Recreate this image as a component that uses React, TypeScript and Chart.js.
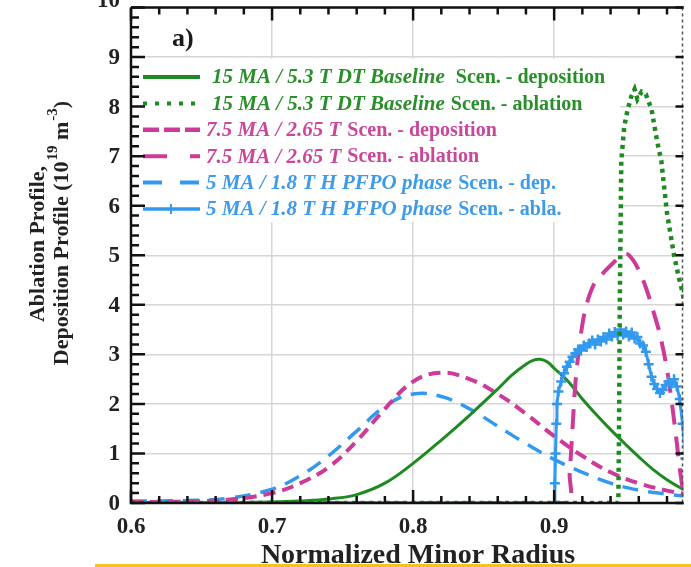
import React, { useEffect, useRef } from "react";
import { Chart, registerables } from "chart.js";

Chart.register(...registerables);

const FONT = '"Liberation Serif", "Times New Roman", serif';

// ---------- Data ----------
// 15 MA / 5.3 T DT Baseline - deposition
const xGreenDep = [0.6, 0.65, 0.7, 0.72, 0.74, 0.76, 0.78, 0.8, 0.82, 0.84, 0.86, 0.87, 0.88, 0.885, 0.89, 0.895, 0.9, 0.91, 0.92, 0.93, 0.94, 0.95, 0.96, 0.97, 0.98, 0.99, 1.0];
const yGreenDep = [0, 0.005, 0.02, 0.04, 0.08, 0.17, 0.4, 0.8, 1.27, 1.77, 2.3, 2.58, 2.8, 2.88, 2.9, 2.85, 2.72, 2.45, 2.1, 1.78, 1.48, 1.2, 0.93, 0.68, 0.47, 0.3, 0.18];

// 15 MA / 5.3 T DT Baseline - ablation
const xGreenAbl = [0.6, 0.9455, 0.946, 0.9465, 0.9476, 0.9497, 0.9518, 0.9546, 0.957, 0.959, 0.962, 0.965, 0.967, 0.969, 0.973, 0.976, 0.98, 0.985, 0.988, 0.991, 0.995, 1.0];
const yGreenAbl = [0, 0, 1.5, 4.0, 6.9, 7.6, 7.9, 8.2, 8.35, 8.15, 8.3, 8.25, 8.1, 7.95, 7.3, 6.9, 5.85, 5.0, 4.6, 4.25, 3.6, 2.8];

// 7.5 MA / 2.65 T - deposition
const xMagDep = [0.6, 0.64, 0.67, 0.7, 0.72, 0.74, 0.76, 0.78, 0.8, 0.82, 0.84, 0.86, 0.88, 0.9, 0.92, 0.94, 0.96, 0.98, 1.0];
const yMagDep = [0.02, 0.03, 0.07, 0.2, 0.4, 0.72, 1.25, 1.9, 2.45, 2.63, 2.5, 2.2, 1.8, 1.35, 0.95, 0.62, 0.4, 0.25, 0.15];

// 7.5 MA / 2.65 T - ablation
const xMagAbl = [0.6, 0.909, 0.911, 0.913, 0.915, 0.918, 0.922, 0.928, 0.935, 0.942, 0.948, 0.952, 0.956, 0.96, 0.965, 0.97, 0.975, 0.98, 0.984, 0.987, 0.99, 0.993, 1.0];
const yMagAbl = [0, 0, 0.6, 1.5, 2.4, 3.2, 3.9, 4.4, 4.65, 4.85, 5.0, 5.02, 4.9, 4.7, 4.35, 3.9, 3.4, 2.7, 1.9, 1.2, 0.5, 0.1, 0];

// 5 MA / 1.8 T H PFPO phase - deposition
const xBlueDep = [0.6, 0.64, 0.67, 0.7, 0.72, 0.74, 0.76, 0.78, 0.8, 0.82, 0.84, 0.86, 0.88, 0.9, 0.92, 0.94, 0.96, 0.98, 1.0];
const yBlueDep = [0.04, 0.05, 0.1, 0.28, 0.55, 0.95, 1.45, 1.95, 2.2, 2.15, 1.9, 1.55, 1.2, 0.88, 0.62, 0.4, 0.26, 0.18, 0.12];

// 5 MA / 1.8 T H PFPO phase - ablation
const xBlueAbl = [0.6, 0.9, 0.9005, 0.901, 0.9015, 0.902, 0.903, 0.905, 0.907, 0.909, 0.911, 0.913, 0.915, 0.917, 0.919, 0.921, 0.923, 0.925, 0.927, 0.929, 0.931, 0.933, 0.935, 0.937, 0.939, 0.941, 0.943, 0.945, 0.947, 0.949, 0.951, 0.953, 0.955, 0.957, 0.959, 0.961, 0.963, 0.965, 0.967, 0.969, 0.971, 0.973, 0.975, 0.977, 0.979, 0.981, 0.983, 0.985, 0.987, 0.989, 0.991, 0.993, 0.996, 1.0];
const yBlueAbl = [0, 0, 0.4, 1.0, 1.6, 2.0, 2.25, 2.45, 2.62, 2.75, 2.85, 2.95, 3.02, 3.1, 3.08, 3.18, 3.15, 3.22, 3.28, 3.2, 3.3, 3.26, 3.35, 3.3, 3.42, 3.36, 3.45, 3.38, 3.5, 3.4, 3.46, 3.36, 3.44, 3.32, 3.35, 3.22, 3.18, 3.05, 2.8, 2.55, 2.4, 2.3, 2.22, 2.28, 2.38, 2.45, 2.4, 2.5, 2.35, 2.1, 1.6, 0.9, 0.2, 0];

// ---------- Axes / labels ----------
const xTickValues = [0.6, 0.7, 0.8, 0.9];
const xTickLabels = ["0.6", "0.7", "0.8", "0.9"];
const yTickValues = [0, 1, 2, 3, 4, 5, 6, 7, 8, 9, 10];
const yTickLabels = ["0", "1", "2", "3", "4", "5", "6", "7", "8", "9", "10"];
const xTitle = "Normalized Minor Radius";
const yTitleLine1 = "Ablation Profile,";
const panelLabel = "a)";

const legendItalic = [
  "15 MA / 5.3 T DT Baseline",
  "15 MA / 5.3 T DT Baseline",
  "7.5 MA / 2.65 T",
  "7.5 MA / 2.65 T",
  "5 MA / 1.8 T H PFPO phase",
  "5 MA / 1.8 T H PFPO phase",
];
const legendSuffix = [
  " Scen. - deposition",
  " Scen. - ablation",
  " Scen. - deposition",
  " Scen. - ablation",
  " Scen. - dep.",
  " Scen. - abla.",
];

const GREEN = "#1e8a22";
const GREEN_TXT = "#2a8f2a";
const MAG = "#cc3b98";
const MAG_TXT = "#c9469b";
const BLUE = "#3399ee";
const BLUE_TXT = "#3d9be9";

const legendColors = [GREEN, GREEN, MAG, MAG, BLUE, BLUE];
const legendTextColors = [GREEN_TXT, GREEN_TXT, MAG_TXT, MAG_TXT, BLUE_TXT, BLUE_TXT];
const legendDash: number[][] = [[], [4, 8], [16, 5], [24, 23], [19, 18], []];
const legendWidth = [4, 4, 4.5, 4, 4, 3.5];

const zip = (xs: number[], ys: number[]) => xs.map((x, i) => ({ x, y: ys[i] }));

const framePlugin = {
  id: "frame",
  beforeDatasetsDraw(chart: any) {
    const { ctx, chartArea } = chart;
    const ys = chart.scales.y;
    const top = ys.getPixelForValue(9) + 1.5;
    ctx.save();
    ctx.fillStyle = "#ffffff";
    ctx.fillRect(chartArea.left + 1, top, 620 - chartArea.left - 1, 222 - top);
    ctx.restore();
  },
  afterDatasetsDraw(chart: any) {
    const { ctx } = chart;
    ctx.save();
    for (let i = 0; i < legendItalic.length; i++) {
      const yy = 77 + i * 26.4;
      ctx.strokeStyle = legendColors[i];
      ctx.lineWidth = legendWidth[i];
      ctx.lineCap = "butt";
      ctx.setLineDash(legendDash[i]);
      ctx.beginPath();
      ctx.moveTo(143, yy);
      ctx.lineTo(200, yy);
      ctx.stroke();
      ctx.setLineDash([]);
      if (i === 5) {
        ctx.lineWidth = 2;
        ctx.beginPath();
        ctx.moveTo(171, yy - 5);
        ctx.lineTo(171, yy + 5);
        ctx.moveTo(166, yy);
        ctx.lineTo(176, yy);
        ctx.stroke();
      }
      const x0 = i < 2 ? 212 : 206;
      ctx.fillStyle = legendTextColors[i];
      ctx.textBaseline = "middle";
      ctx.textAlign = "left";
      ctx.font = `italic bold 21px ${FONT}`;
      ctx.fillText(legendItalic[i], x0, yy + 1);
      const w = ctx.measureText(legendItalic[i]).width;
      ctx.font = `bold 20px ${FONT}`;
      ctx.fillText(legendSuffix[i], x0 + w + (i === 0 ? 6 : 1), yy + 1);
    }
    ctx.restore();
  },
  afterDraw(chart: any) {
    const { ctx, chartArea } = chart;
    const xs = chart.scales.x;
    const ys = chart.scales.y;
    const { left, right, top, bottom } = chartArea;
    ctx.save();

    // frame
    ctx.strokeStyle = "#111111";
    ctx.lineWidth = 2.5;
    ctx.setLineDash([]);
    ctx.beginPath();
    ctx.moveTo(left, top);
    ctx.lineTo(left, bottom);
    ctx.lineTo(right, bottom);
    ctx.moveTo(left, top);
    ctx.lineTo(right, top);
    ctx.stroke();
    ctx.strokeStyle = "#555555";
    ctx.lineWidth = 1.5;
    ctx.setLineDash([3, 3]);
    ctx.beginPath();
    ctx.moveTo(right - 1, top);
    ctx.lineTo(right - 1, bottom);
    ctx.stroke();
    ctx.setLineDash([]);

    // ticks (inward)
    ctx.strokeStyle = "#111111";
    ctx.lineWidth = 2.5;
    ctx.beginPath();
    for (let k = 0; k <= 20; k++) {
      const v = 0.6 + k * 0.02;
      if (v > xs.max + 1e-9) break;
      const px = xs.getPixelForValue(v);
      const len = k % 5 === 0 ? 13 : 7;
      ctx.moveTo(px, bottom);
      ctx.lineTo(px, bottom - len);
      ctx.moveTo(px, top);
      ctx.lineTo(px, top + len);
    }
    for (let k = 0; k <= 50; k++) {
      const v = k * 0.2;
      const py = ys.getPixelForValue(v);
      const major = k % 5 === 0;
      const len = major ? 14 : 8;
      ctx.moveTo(left, py);
      ctx.lineTo(left + len, py);
      if (major) {
        ctx.moveTo(right, py);
        ctx.lineTo(right - 8, py);
      }
    }
    ctx.stroke();

    // tick labels
    ctx.fillStyle = "#222222";
    ctx.font = `bold 23px ${FONT}`;
    ctx.textAlign = "right";
    ctx.textBaseline = "middle";
    yTickValues.forEach((v, i) => {
      const py = v === 10 ? 1 : ys.getPixelForValue(v) + 1;
      ctx.fillText(yTickLabels[i], left - 11, py);
    });
    ctx.textAlign = "center";
    xTickValues.forEach((v, i) => {
      ctx.fillText(xTickLabels[i], xs.getPixelForValue(v), 527);
    });

    // x title
    ctx.font = `bold 28px ${FONT}`;
    ctx.textBaseline = "alphabetic";
    ctx.fillText(xTitle, 418, 563);

    // y title (two lines, rotated, with superscripts)
    ctx.save();
    ctx.translate(38, 244);
    ctx.rotate(-Math.PI / 2);
    ctx.font = `bold 22px ${FONT}`;
    ctx.textAlign = "center";
    ctx.textBaseline = "middle";
    ctx.fillText(yTitleLine1, 0, 0);
    ctx.restore();

    ctx.save();
    ctx.translate(62, 233);
    ctx.rotate(-Math.PI / 2);
    ctx.textBaseline = "middle";
    ctx.textAlign = "left";
    const segs: [string, boolean][] = [
      ["Deposition Profile (10", false],
      ["19", true],
      [" m", false],
      ["-3", true],
      [")", false],
    ];
    const big = `bold 22px ${FONT}`;
    const small = `bold 15px ${FONT}`;
    let total = 0;
    segs.forEach(([t, sup]) => {
      ctx.font = sup ? small : big;
      total += ctx.measureText(t).width + (sup ? 1 : 0);
    });
    let cx = -total / 2;
    segs.forEach(([t, sup]) => {
      ctx.font = sup ? small : big;
      ctx.fillText(t, cx + (sup ? 1 : 0), sup ? -9 : 0);
      cx += ctx.measureText(t).width + (sup ? 1 : 0);
    });
    ctx.restore();

    // panel label
    ctx.font = `bold 26px ${FONT}`;
    ctx.textAlign = "left";
    ctx.textBaseline = "middle";
    ctx.fillStyle = "#1a1a1a";
    ctx.fillText(panelLabel, 172, 39);

    // bottom yellow rule
    ctx.fillStyle = "#f6c21c";
    ctx.fillRect(95, 564, 596, 3);

    ctx.restore();
  },
};

export default function App() {
  const ref = useRef<HTMLCanvasElement>(null);
  useEffect(() => {
    document.body.style.margin = "0";
    const canvas = ref.current!;
    const chart = new Chart(canvas, {
      type: "line",
      data: {
        datasets: [
          {
            label: "15 MA / 5.3 T DT Baseline Scen. - ablation",
            data: zip(xGreenAbl, yGreenAbl),
            borderColor: GREEN,
            borderWidth: 4.5,
            borderDash: [4, 4.5],
            borderCapStyle: "butt",
            pointRadius: 0,
            tension: 0,
            order: 0,
          },
          {
            label: "5 MA / 1.8 T H PFPO phase Scen. - abla.",
            data: zip(xBlueAbl, yBlueAbl),
            borderColor: BLUE,
            backgroundColor: BLUE,
            borderWidth: 3,
            pointStyle: "cross",
            pointRadius: (c: any) => (c.raw && c.raw.x < 0.899 ? 0 : 5),
            pointBorderWidth: 2.5,
            pointBorderColor: BLUE,
            tension: 0,
            order: 1,
          },
          {
            label: "7.5 MA / 2.65 T Scen. - ablation",
            data: zip(xMagAbl, yMagAbl),
            borderColor: MAG,
            borderWidth: 4,
            borderDash: [20, 12],
            pointRadius: 0,
            tension: 0.3,
            order: 2,
          },
          {
            label: "15 MA / 5.3 T DT Baseline Scen. - deposition",
            data: zip(xGreenDep, yGreenDep),
            borderColor: GREEN,
            borderWidth: 3,
            pointRadius: 0,
            tension: 0.4,
            order: 3,
          },
          {
            label: "7.5 MA / 2.65 T Scen. - deposition",
            data: zip(xMagDep, yMagDep),
            borderColor: MAG,
            borderWidth: 4,
            borderDash: [12, 7],
            pointRadius: 0,
            tension: 0.4,
            order: 4,
          },
          {
            label: "5 MA / 1.8 T H PFPO phase Scen. - dep.",
            data: zip(xBlueDep, yBlueDep),
            borderColor: BLUE,
            borderWidth: 3.5,
            borderDash: [16, 10],
            pointRadius: 0,
            tension: 0.4,
            order: 5,
          },
        ],
      },
      options: {
        responsive: false,
        animation: false,
        parsing: false as any,
        layout: { padding: { left: 131, right: 1, top: 7, bottom: 64 } },
        plugins: { legend: { display: false }, tooltip: { enabled: false } },
        scales: {
          x: {
            type: "linear",
            min: 0.6,
            max: 0.9917,
            afterBuildTicks: (s: any) => {
              s.ticks = xTickValues.map((v) => ({ value: v }));
            },
            afterFit: (s: any) => {
              s.height = 0;
            },
            ticks: { display: false },
            grid: { color: "#d6d6d6", lineWidth: 1.5, drawTicks: false },
            border: { display: false },
          },
          y: {
            type: "linear",
            min: 0,
            max: 10,
            afterBuildTicks: (s: any) => {
              s.ticks = yTickValues.map((v) => ({ value: v }));
            },
            afterFit: (s: any) => {
              s.width = 0;
            },
            ticks: { display: false },
            grid: { color: "#d6d6d6", lineWidth: 1.5, drawTicks: false },
            border: { display: false },
          },
        },
      } as any,
      plugins: [framePlugin],
    });
    return () => chart.destroy();
  }, []);
  return (
    <div style={{ width: 691, height: 567, overflow: "hidden", background: "#fff" }}>
      <canvas ref={ref} width={691} height={567} style={{ display: "block" }} />
    </div>
  );
}
